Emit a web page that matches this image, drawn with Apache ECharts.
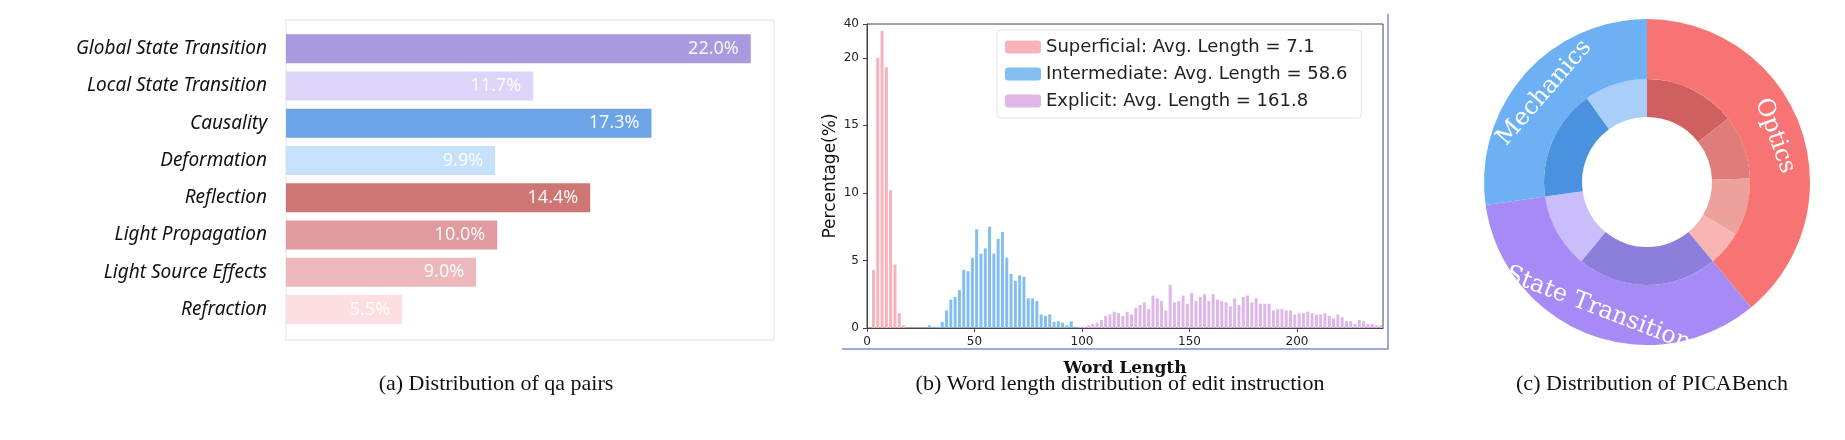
<!DOCTYPE html>
<html><head><meta charset="utf-8">
<script src="https://cdn.jsdelivr.net/npm/echarts@6/dist/echarts.min.js"></script>
<style>html,body{margin:0;background:#fff}#c{width:1845px;height:440px}</style>
</head><body><div id="c"></div>
<script>
const qaCategories = ['Global State Transition','Local State Transition','Causality','Deformation','Reflection','Light Propagation','Light Source Effects','Refraction'];
const qaValues = [22.0, 11.7, 17.3, 9.9, 14.4, 10.0, 9.0, 5.5];
const qaColors = ['#A89ADF','#DDD4FA','#6CA4E6','#C6E1FB','#CE7674','#E19A9D','#ECB8BC','#FDDFE2'];

const superficialX = [3,5,7,9,11,13,15,17];
const superficialY = [4.3,20,36,19.3,10.2,4.7,1.1,0.2];
const intermediateX = [29,31,33,35,37,39,41,43,45,47,49,51,53,55,57,59,61,63,65,67,69,71,73,75,77,79,81,83,85,87,89,91,93,95,97];
const intermediateY = [0.2,0.1,0.1,0.45,1.3,2.1,2.3,2.8,4.3,4.2,5.2,7.3,5.5,5.9,7.5,5.5,6.6,7.1,5.2,4.0,3.5,3.9,3.8,2.2,2.2,2.0,1.0,0.9,1.0,0.45,0.5,0.4,0.2,0.5,0.1];
const explicitX = [99,101,103,105,107,109,111,113,115,117,119,121,123,125,127,129,131,133,135,137,139,141,143,145,147,149,151,153,155,157,159,161,163,165,167,169,171,173,175,177,179,181,183,185,187,189,191,193,195,197,199,201,203,205,207,209,211,213,215,217,219,221,223,225,227,229,231,233,235,237,239];
const explicitY = [0.1,0.1,0.2,0.3,0.4,0.6,0.9,1.0,1.2,1.1,0.9,1.2,1.0,1.5,1.7,1.9,1.4,2.4,2.2,2.0,1.3,3.2,1.9,2.0,2.4,1.8,2.6,2.0,2.3,2.5,2.0,2.5,2.1,2.0,1.9,1.6,2.2,1.7,2.3,2.4,1.9,2.2,1.8,1.8,1.8,1.3,1.4,1.4,1.3,1.3,1.0,1.1,1.1,1.2,1.1,1.0,1.0,1.1,0.9,0.7,1.0,0.8,0.5,0.5,0.3,0.6,0.5,0.3,0.3,0.2,0.2];
const legendNames = ['Superficial: Avg. Length = 7.1','Intermediate: Avg. Length = 58.6','Explicit: Avg. Length = 161.8'];
const yTickValues = [0,5,10,15,20,40];

const groups = ['Optics','State Transition','Mechanics'];
const groupColors = ['#F87474','#A68BF7','#6DB0F4'];

const BREAK = 20, TOP = 22.5;
const mapY = v => v <= BREAK ? v : BREAK + (v - BREAK) * (TOP - BREAK) / 20;
const pairs = (xs, ys) => xs.map((x,i)=>[x, mapY(ys[i])]);

const sum = a => a.reduce((s,v)=>s+v,0);
const idx = n => qaCategories.indexOf(n);
const innerOrder = ['Reflection','Light Propagation','Light Source Effects','Refraction','Global State Transition','Local State Transition','Causality','Deformation'];
const innerColorsPie = {'Reflection':'#D05F5F','Light Propagation':'#DE7D79','Light Source Effects':'#EDA19C','Refraction':'#F9B5B3','Global State Transition':'#8C7FDB','Local State Transition':'#CABDFB','Causality':'#4A92E0','Deformation':'#A9CFF9'};
const innerData = innerOrder.map(n=>({name:n, value:qaValues[idx(n)], itemStyle:{color:innerColorsPie[n]}}));
const outerData = [
  {name:groups[0], value:sum(innerOrder.slice(0,4).map(n=>qaValues[idx(n)])), itemStyle:{color:groupColors[0]}},
  {name:groups[1], value:sum(innerOrder.slice(4,6).map(n=>qaValues[idx(n)])), itemStyle:{color:groupColors[1]}},
  {name:groups[2], value:sum(innerOrder.slice(6,8).map(n=>qaValues[idx(n)])), itemStyle:{color:groupColors[2]}}
];

const hand = 'Noto Sans';
const cap = {fontFamily:'Liberation Serif', fontWeight:'normal', fontSize:22, color:'#111'};
const chart = echarts.init(document.getElementById('c'));
chart.setOption({
  animation:false,
  title:[
    {text:'(a) Distribution of qa pairs', left:491, top:368, textAlign:'center', textStyle:cap},
    {text:'(b) Word length distribution of edit instruction', left:1115, top:368, textAlign:'center', textStyle:cap},
    {text:'(c) Distribution of PICABench', left:1647, top:368, textAlign:'center', textStyle:cap}
  ],
  graphic:[
    {type:'rect', shape:{x:286,y:20,width:488,height:320}, style:{fill:'none', stroke:'#e2e2e2', lineWidth:1}, silent:true},
    {type:'polyline', shape:{points:[[842,349],[1388,349],[1388,14]]}, style:{stroke:'#7D8CD6', lineWidth:1.5, fill:'none'}, silent:true}
  ],
  legend:{data:legendNames, orient:'vertical', left:997, top:30, itemWidth:36, itemHeight:13, itemGap:9,
    textStyle:{fontSize:18, color:'#222', fontFamily:'DejaVu Sans'}, borderColor:'#e3e3e3', borderWidth:1, borderRadius:4, padding:[8,14,8,8], backgroundColor:'#fff'},
  grid:[
    {left:286, right:1845-774, top:30, bottom:440-328},
    {left:867, right:1845-1383, top:24, bottom:440-328, show:true, borderColor:'#444', borderWidth:1}
  ],
  xAxis:[
    {gridIndex:0, type:'value', min:0, max:23.1, show:false},
    {gridIndex:1, type:'value', min:0, max:240, interval:50,
      name:'Word Length', nameLocation:'middle', nameGap:32,
      nameTextStyle:{fontFamily:'DejaVu Serif', fontWeight:'bold', fontSize:17, color:'#111'},
      axisLine:{lineStyle:{color:'#444'}}, axisTick:{show:true, length:4, lineStyle:{color:'#444'}},
      axisLabel:{fontSize:12, color:'#222', fontFamily:'DejaVu Sans', showMaxLabel:false}, splitLine:{show:false}}
  ],
  yAxis:[
    {gridIndex:0, type:'category', data:qaCategories, inverse:true,
      axisLine:{show:false}, axisTick:{show:false},
      axisLabel:{fontFamily:hand, fontStyle:'italic', fontSize:19, color:'#111', margin:19}},
    {gridIndex:1, type:'value', min:0, max:TOP,
      name:'Percentage(%)', nameLocation:'middle', nameGap:28, nameRotate:90,
      nameTextStyle:{fontFamily:'DejaVu Sans', fontSize:17, color:'#111'},
      axisLine:{show:true, lineStyle:{color:'#444'}},
      axisTick:{show:true, length:4, customValues:yTickValues.map(mapY), lineStyle:{color:'#444'}},
      axisLabel:{fontSize:12, color:'#222', fontFamily:'DejaVu Sans', customValues:yTickValues.map(mapY),
        formatter:v=>{const i=yTickValues.map(mapY).findIndex(t=>Math.abs(t-v)<1e-6); return i>=0?String(yTickValues[i]):'';}},
      splitLine:{show:false}}
  ],
  series:[
    {type:'bar', xAxisIndex:0, yAxisIndex:0, barWidth:29,
      data:qaValues.map((v,i)=>({value:v, itemStyle:{color:qaColors[i]}})),
      label:{show:true, position:'insideRight', distance:12, color:'rgba(255,255,255,0.92)', fontFamily:hand, fontSize:18, formatter:p=>p.value.toFixed(1)+'%'}},
    {name:legendNames[0], type:'bar', xAxisIndex:1, yAxisIndex:1, barWidth:3, barGap:'-100%', data:pairs(superficialX, superficialY), itemStyle:{color:'#F8B3BA'}},
    {name:legendNames[1], type:'bar', xAxisIndex:1, yAxisIndex:1, barWidth:3, barGap:'-100%', data:pairs(intermediateX, intermediateY), itemStyle:{color:'#84BEF1'}},
    {name:legendNames[2], type:'bar', xAxisIndex:1, yAxisIndex:1, barWidth:3, barGap:'-100%', data:pairs(explicitX, explicitY), itemStyle:{color:'#DFB6E8'}},
    {type:'pie', center:[1647,182], radius:[65,103], startAngle:90, clockwise:true, data:innerData, label:{show:false}, labelLine:{show:false}, itemStyle:{borderWidth:0}, silent:true},
    {type:'pie', center:[1647,182], radius:[103,163], startAngle:90, clockwise:true, data:outerData,
      label:{show:true, position:'inside', rotate:'tangential', color:'#fff', fontFamily:'DejaVu Serif', fontSize:24, formatter:'{b}'},
      labelLine:{show:false}, silent:true}
  ]
});
</script></body></html>
